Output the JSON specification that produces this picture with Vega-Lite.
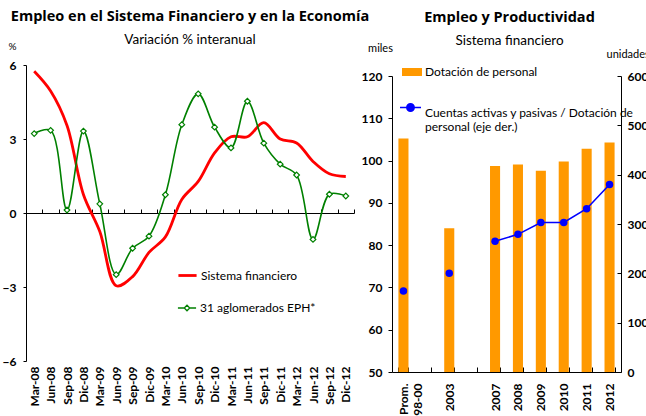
{
  "$schema": "https://vega.github.io/schema/vega-lite/v6.json",
  "padding": {"left": 2, "top": 9, "right": 0, "bottom": 0},
  "background": "white",
  "spacing": -9,
  "config": {
    "font": "Lato",
    "view": {"stroke": null},
    "axis": {"labelFont": "Lato", "labelFontWeight": "bold", "labelFontSize": 12, "labelColor": "#000", "domainColor": "#000", "tickColor": "#000", "grid": false, "titleFont": "Lato", "titleFontWeight": "normal", "titleFontSize": 11, "titleColor": "#000"},
    "legend": {"labelFont": "Lato", "labelFontSize": 12, "labelColor": "#000", "padding": 0},
    "title": {"font": "Open Sans", "fontSize": 14.5, "fontWeight": "bold", "color": "#000", "subtitleFont": "Lato", "subtitleFontSize": 13.5, "subtitleColor": "#000", "subtitlePadding": 8, "anchor": "middle", "frame": "group"}
  },
  "resolve": {"scale": {"stroke": "independent", "fill": "independent", "color": "independent"}, "legend": {"stroke": "independent", "fill": "independent", "color": "independent"}},
  "hconcat": [
    {
      "width": 328,
      "height": 296,
      "title": {"text": "Empleo en el Sistema Financiero y en la Economía", "subtitle": "Variación % interanual", "offset": -6},
      "data": {"values": [
        {"q": "Mar-08", "sf": 5.75, "eph": 3.22},
        {"q": "Jun-08", "sf": 4.95, "eph": 3.35},
        {"q": "Sep-08", "sf": 3.55, "eph": 0.12},
        {"q": "Dic-08", "sf": 0.75, "eph": 3.32},
        {"q": "Mar-09", "sf": -0.75, "eph": 0.37},
        {"q": "Jun-09", "sf": -2.95, "eph": -2.5},
        {"q": "Sep-09", "sf": -2.58, "eph": -1.43},
        {"q": "Dic-09", "sf": -1.6, "eph": -0.94},
        {"q": "Mar-10", "sf": -0.97, "eph": 0.74},
        {"q": "Jun-10", "sf": 0.55, "eph": 3.58},
        {"q": "Sep-10", "sf": 1.28, "eph": 4.83},
        {"q": "Dic-10", "sf": 2.44, "eph": 3.48},
        {"q": "Mar-11", "sf": 3.09, "eph": 2.64},
        {"q": "Jun-11", "sf": 3.09, "eph": 4.53},
        {"q": "Sep-11", "sf": 3.66, "eph": 2.83},
        {"q": "Dic-11", "sf": 3.0, "eph": 1.98},
        {"q": "Mar-12", "sf": 2.84, "eph": 1.54},
        {"q": "Jun-12", "sf": 2.09, "eph": -1.07},
        {"q": "Sep-12", "sf": 1.59, "eph": 0.76},
        {"q": "Dic-12", "sf": 1.48, "eph": 0.69}
      ]},
      "layer": [
        {
          "mark": {"type": "line", "interpolate": "catmull-rom", "strokeWidth": 2.8},
          "encoding": {
            "x": {"field": "q", "type": "ordinal", "sort": null, "scale": {"paddingInner": 0, "paddingOuter": 0},
              "axis": {"title": null, "labelAngle": -90, "labelAlign": "right", "labelBaseline": "middle", "offset": -148, "tickSize": -4, "labelPadding": 157, "tickBand": "extent", "labelFontSize": 12}},
            "y": {"field": "sf", "type": "quantitative", "scale": {"domain": [-6, 6]},
              "axis": {"values": [-6, -3, 0, 3, 6], "title": "%", "titleAngle": 0, "titleX": -18, "titleY": -19, "titleAlign": "left", "titleBaseline": "middle", "titleFontSize": 10, "tickSize": 3, "labelPadding": 7}},
            "stroke": {"datum": "Sistema financiero", "scale": {"range": ["#FF0000"]},
              "legend": {"orient": "none", "legendX": 151, "legendY": 200, "title": null, "symbolType": "stroke", "symbolSize": 330, "symbolStrokeWidth": 2.8, "labelOffset": 3}}
          }
        },
        {
          "mark": {"type": "line", "interpolate": "catmull-rom", "strokeWidth": 1.6},
          "encoding": {
            "x": {"field": "q", "type": "ordinal", "sort": null},
            "y": {"field": "eph", "type": "quantitative"},
            "color": {"datum": "31 aglomerados EPH*", "scale": {"range": ["#008000"]},
              "legend": {"orient": "none", "legendX": 151, "legendY": 233, "title": null, "symbolType": "M-1,0H-0.3M0.3,0H1M-0.3,0L0,-0.3L0.3,0L0,0.3Z", "symbolSize": 330, "symbolStrokeWidth": 1.3, "labelOffset": 3,
                "encode": {"symbols": {"update": {"fill": {"value": "white"}, "stroke": {"value": "#008000"}}}}}}
          }
        },
        {
          "mark": {"type": "point", "shape": "diamond", "filled": true, "fill": "white", "stroke": "#008000", "strokeWidth": 1.2, "size": 32, "opacity": 1},
          "encoding": {
            "x": {"field": "q", "type": "ordinal", "sort": null},
            "y": {"field": "eph", "type": "quantitative"}
          }
        }
      ]
    },
    {
      "width": 229,
      "height": 307,
      "title": {"text": "Empleo y Productividad", "subtitle": "Sistema financiero", "offset": -6, "dx": 3},
      "data": {"values": [
        {"cat": "Prom. 98-00", "dot": 105.2, "ratio": 164, "linea": false},
        {"cat": "2003", "dot": 84.0, "ratio": 200, "linea": false},
        {"cat": "2007", "dot": 98.7, "ratio": 265, "linea": true},
        {"cat": "2008", "dot": 99.1, "ratio": 279, "linea": true},
        {"cat": "2009", "dot": 97.6, "ratio": 303, "linea": true},
        {"cat": "2010", "dot": 99.8, "ratio": 303, "linea": true},
        {"cat": "2011", "dot": 102.8, "ratio": 331, "linea": true},
        {"cat": "2012", "dot": 104.3, "ratio": 380, "linea": true}
      ]},
      "layer": [
        {
          "mark": {"type": "bar"},
          "encoding": {
            "x": {"field": "cat", "type": "ordinal", "scale": {"domain": ["Prom. 98-00", " ", "2003", "  ", "2007", "2008", "2009", "2010", "2011", "2012"], "paddingInner": 0.56, "paddingOuter": 0.28},
              "axis": {"title": null, "labelAngle": -90, "labelAlign": "right", "labelBaseline": "middle", "tickSize": -5, "labelPadding": 16, "tickBand": "extent", "labelLineHeight": 14,
                "labelExpr": "datum.value == 'Prom. 98-00' ? ['Prom.', '98-00'] : datum.value"}},
            "y": {"field": "dot", "type": "quantitative", "scale": {"domain": [50, 120], "range": [307, 11]},
              "axis": {"values": [50, 60, 70, 80, 90, 100, 110, 120], "title": "miles", "titleAngle": 0, "titleX": -12, "titleY": -17, "titleAlign": "center", "titleBaseline": "middle", "tickSize": 4, "labelPadding": 6}},
            "y2": {"datum": 50},
            "fill": {"datum": "Dotación de personal", "scale": {"range": ["#FF9900"]},
              "legend": {"orient": "none", "legendX": 10, "legendY": -3, "title": null, "symbolType": "M-1,-0.4H1V0.4H-1Z", "symbolSize": 400, "symbolStrokeWidth": 0, "labelOffset": 3}}
          }
        },
        {
          "encoding": {
            "x": {"field": "cat", "type": "ordinal"},
            "y": {"field": "ratio", "type": "quantitative", "scale": {"domain": [0, 600], "range": [307, 11]},
              "axis": {"orient": "right", "values": [0, 100, 200, 300, 400, 500, 600], "title": "unidades", "titleAngle": 0, "titleX": -15, "titleY": -11, "titleAlign": "left", "titleBaseline": "middle", "tickSize": -4, "labelPadding": 10}}
          },
          "layer": [
            {
              "transform": [{"filter": "datum.linea"}],
              "mark": {"type": "line", "strokeWidth": 1.6},
              "encoding": {
                "stroke": {"datum": "Cuentas activas y pasivas / Dotación de personal (eje der.)", "scale": {"range": ["#0000FF"]},
                  "legend": {"orient": "none", "legendX": 7, "legendY": 31, "title": null, "symbolType": "M-1,0H1M0.35,0A0.35,0.35,0,1,1,-0.35,0A0.35,0.35,0,1,1,0.35,0Z", "symbolSize": 441, "symbolStrokeWidth": 1.6, "labelOffset": 3, "labelLimit": 300, "labelBaseline": "top", "labelLineHeight": 16,
                    "labelExpr": "['Cuentas activas y pasivas / Dotación de', 'personal (eje der.)']",
                    "encode": {"symbols": {"update": {"fill": {"value": "#0000FF"}, "stroke": {"value": "#0000FF"}}}}}}
              }
            },
            {
              "mark": {"type": "circle", "color": "#0000FF", "size": 56, "opacity": 1}
            }
          ]
        }
      ],
      "resolve": {"scale": {"y": "independent"}}
    }
  ]
}
